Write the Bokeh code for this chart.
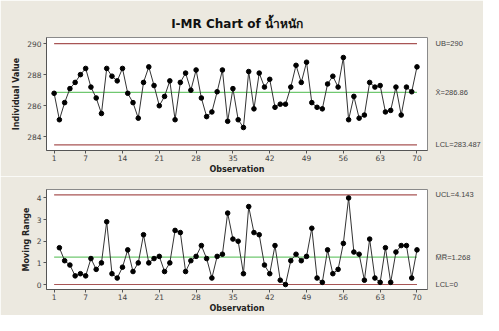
from bokeh.plotting import figure
from bokeh.layouts import column
from bokeh.models import Range1d, FixedTicker, LinearAxis
from bokeh.embed import file_html
from bokeh.resources import INLINE

# ---- data ----
obs = list(range(1, 71))
individual = [286.8, 285.1, 286.2, 287.1, 287.5, 288.0, 288.4, 287.2, 286.5, 285.5,
              288.4, 287.9, 287.6, 288.4, 286.8, 286.2, 285.2, 287.5, 288.5, 287.3,
              286.0, 286.6, 287.6, 285.1, 287.5, 288.1, 287.0, 288.3, 286.5, 285.3,
              285.6, 286.9, 288.3, 285.0, 287.1, 285.1, 284.6, 288.2, 285.8, 288.1,
              287.2, 287.7, 285.9, 286.1, 286.1, 287.2, 288.6, 287.5, 288.8, 286.2,
              285.9, 285.8, 287.4, 287.9, 287.2, 289.1, 285.1, 286.6, 285.2, 285.4,
              287.5, 287.2, 287.3, 285.6, 285.7, 287.2, 285.4, 287.2, 286.9, 288.5]
mr_obs = list(range(2, 71))
moving_range = [1.7, 1.1, 0.9, 0.4, 0.5, 0.4, 1.2, 0.7, 1.0, 2.9,
                0.5, 0.3, 0.8, 1.6, 0.6, 1.0, 2.3, 1.0, 1.2, 1.3,
                0.6, 1.0, 2.5, 2.4, 0.6, 1.1, 1.3, 1.8, 1.2, 0.3,
                1.3, 1.4, 3.3, 2.1, 2.0, 0.5, 3.6, 2.4, 2.3, 0.9,
                0.5, 1.8, 0.2, 0.0, 1.1, 1.4, 1.1, 1.3, 2.6, 0.3,
                0.1, 1.6, 0.5, 0.7, 1.9, 4.0, 1.5, 1.4, 0.2, 2.1,
                0.3, 0.1, 1.7, 0.1, 1.5, 1.8, 1.8, 0.3, 1.6]
i_ucl, i_center, i_lcl = 290, 286.86, 283.487
i_labels = {290: "UB=290", 286.86: "X\u0304=286.86", 283.487: "LCL=283.487"}
mr_ucl, mr_center, mr_lcl = 4.143, 1.268, 0
mr_labels = {4.143: "UCL=4.143", 1.268: "M\u0305R\u0305=1.268", 0: "LCL=0"}
x_ticks = [1, 7, 14, 21, 28, 35, 42, 49, 56, 63, 70]
i_ticks = [284, 286, 288, 290]
mr_ticks = [0, 1, 2, 3, 4]

BG = "#ECE9E0"
LIMIT = "#A85555"
CENTER = "#70C870"
FONT = "DejaVu Sans"
RFONT = "Liberation Sans"


def style(p, yticks, ylabel, ref_ticks, ref_labels):
    p.background_fill_color = "white"
    p.border_fill_color = BG
    p.outline_line_color = "#8A8A8A"
    p.xgrid.visible = False
    p.ygrid.visible = False
    p.xaxis.ticker = FixedTicker(ticks=x_ticks)
    p.yaxis.ticker = FixedTicker(ticks=yticks)
    for ax in (p.xaxis[0], p.yaxis[0]):
        ax.axis_line_color = "#555555"
        ax.major_tick_line_color = "#555555"
        ax.major_tick_out = 3
        ax.major_tick_in = 0
        ax.minor_tick_line_color = None
        ax.major_label_text_font = FONT
        ax.major_label_text_font_size = "7.5px"
        ax.major_label_text_color = "#444444"
        ax.axis_label_text_font = FONT
        ax.axis_label_text_font_size = "8px"
        ax.axis_label_text_font_style = "bold"
        ax.axis_label_text_color = "#222222"
        ax.major_label_standoff = 2
        ax.axis_label_standoff = 3
    p.xaxis.major_label_standoff = 1
    p.xaxis.axis_label_standoff = 1
    p.xaxis.axis_label = "Observation"
    p.yaxis.axis_label = ylabel
    r = LinearAxis(ticker=FixedTicker(ticks=ref_ticks),
                   major_label_overrides=ref_labels,
                   axis_line_color=None, major_tick_line_color=None,
                   minor_tick_line_color=None,
                   major_label_text_font=RFONT,
                   major_label_text_font_size="7.5px",
                   major_label_text_color="#444444",
                   major_label_standoff=2)
    p.add_layout(r, "right")


# ---- Individual chart ----
p1 = figure(width=483, height=176, output_backend="svg", toolbar_location=None,
            x_range=Range1d(-0.45, 72), y_range=Range1d(283.12, 290.39),
            min_border_left=46, min_border_right=46, min_border_top=37,
            min_border_bottom=26)
p1.title.text = "I-MR Chart of น้ำหนัก"
p1.title.align = "center"
p1.title.text_font = FONT
p1.title.text_font_size = "12px"
p1.title.text_font_style = "bold"
p1.title.text_color = "#111111"
p1.title.standoff = 14
style(p1, i_ticks, "Individual Value", [i_ucl, i_center, i_lcl], i_labels)
p1.line([obs[0], obs[-1]], [i_ucl, i_ucl], color=LIMIT, line_width=1.2)
p1.line([obs[0], obs[-1]], [i_lcl, i_lcl], color=LIMIT, line_width=1.2)
p1.line([obs[0], obs[-1]], [i_center, i_center], color=CENTER, line_width=1.2)
p1.line(obs, individual, color="#333333", line_width=1)
p1.scatter(obs, individual, size=4.6, color="black")

# ---- Moving range chart ----
p2 = figure(width=483, height=139, output_backend="svg", toolbar_location=None,
            x_range=Range1d(-0.45, 72), y_range=Range1d(-0.23, 4.39),
            min_border_left=46, min_border_right=46, min_border_top=13,
            min_border_bottom=22)
style(p2, mr_ticks, "Moving Range", [mr_ucl, mr_center, mr_lcl], mr_labels)
p2.line([obs[0], obs[-1]], [mr_ucl, mr_ucl], color=LIMIT, line_width=1.2)
p2.line([obs[0], obs[-1]], [mr_lcl, mr_lcl], color=LIMIT, line_width=1.2)
p2.line([obs[0], obs[-1]], [mr_center, mr_center], color=CENTER, line_width=1.2)
p2.line(mr_obs, moving_range, color="#333333", line_width=1)
p2.scatter(mr_obs, moving_range, size=4.6, color="black")

layout = column(p1, p2, spacing=0)
open("out.html", "w").write(file_html(layout, INLINE))
